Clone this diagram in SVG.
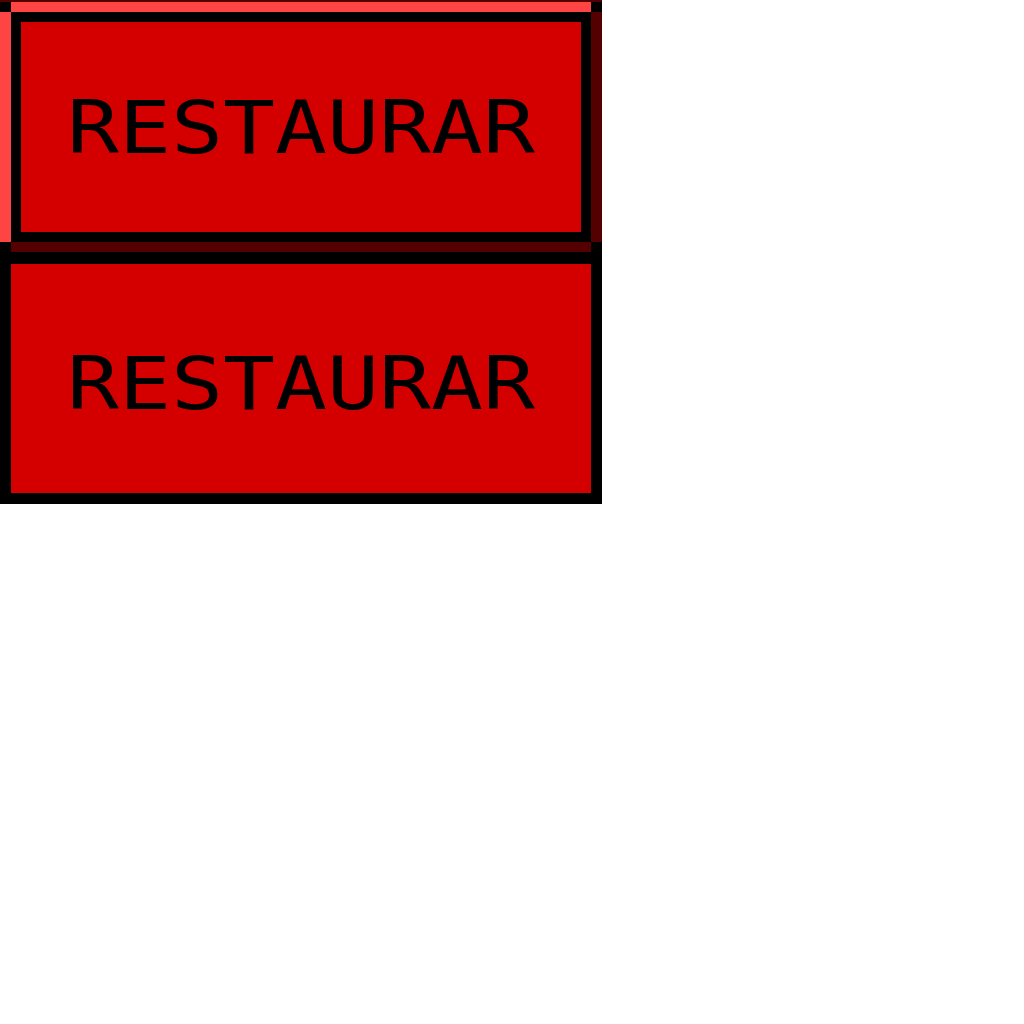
<svg xmlns="http://www.w3.org/2000/svg" width="1024" height="1024" viewBox="0 0 1024 1024">
<style>
.blk{fill:#000000}
.hi{fill:#ff4444}
.sh{fill:#550000}
.face{fill:#d40000}
.lbl{font-family:"DejaVu Sans Mono","Liberation Mono",monospace;font-weight:normal;font-size:73px;fill:#000000}
</style>
<rect x="0" y="0" width="1024" height="1024" fill="#ffffff"/>
<g id="button-top">
<rect class="sh" x="0" y="0" width="602" height="2"/>
<rect class="blk" x="0" y="2" width="11" height="10"/>
<rect class="hi" x="11" y="2" width="580" height="10"/>
<rect class="blk" x="591" y="2" width="11" height="10"/>
<rect class="hi" x="0" y="12" width="11" height="230"/>
<rect class="sh" x="591" y="12" width="11" height="230"/>
<rect class="sh" x="11" y="242" width="580" height="10"/>
<rect class="blk" x="0" y="242" width="11" height="10"/>
<rect class="blk" x="591" y="242" width="11" height="10"/>
<rect class="blk" x="11" y="12" width="580" height="230"/>
<rect class="face" x="21" y="22" width="560" height="210"/>
<text class="lbl" x="67" y="153" textLength="468" lengthAdjust="spacingAndGlyphs">RESTAURAR</text>
</g>
<g id="button-bottom">
<rect class="blk" x="0" y="252" width="602" height="252"/>
<rect class="face" x="11" y="264" width="580" height="229"/>
<text class="lbl" x="67" y="409" textLength="468" lengthAdjust="spacingAndGlyphs">RESTAURAR</text>
</g>
<g id="connectors"/>
</svg>
